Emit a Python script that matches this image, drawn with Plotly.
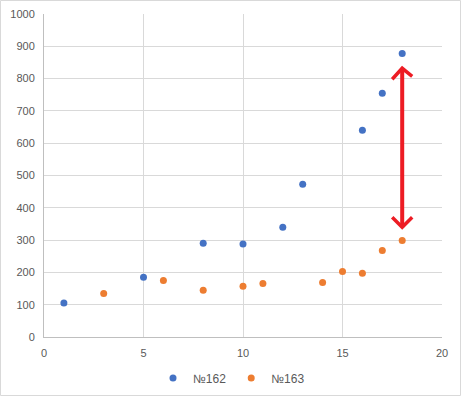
import plotly.graph_objects as go

# Data
x162 = [1, 5, 8, 10, 12, 13, 16, 17, 18]
y162 = [105, 185, 290, 288, 340, 473, 640, 755, 878]
x163 = [3, 6, 8, 10, 11, 14, 15, 16, 17, 18]
y163 = [135, 175, 145, 157, 166, 169, 203, 197, 268, 299]
names = ["№162", "№163"]
colors = ["#4472C4", "#ED7D31"]

# Double arrow (data units)
arrow_x = 18
arrow_y_low = 340
arrow_y_high = 832

W, H = 463, 398
ml, mr, mt, mb = 44, 21, 14, 61
pw, ph = W - ml - mr, H - mt - mb

fig = go.Figure()
for xs, ys, nm, c in [(x162, y162, names[0], colors[0]), (x163, y163, names[1], colors[1])]:
    fig.add_trace(go.Scatter(x=xs, y=ys, mode="markers", name=nm,
                             marker=dict(color=c, size=7, line=dict(width=0))))

dx = 10 * 20 / pw
dy = 10 * 1000 / ph
red = "#ED1C24"
shapes = [
    dict(type="line", x0=arrow_x, x1=arrow_x, y0=arrow_y_low, y1=arrow_y_high,
         line=dict(color=red, width=4)),
    dict(type="path", path=f"M {arrow_x-dx},{arrow_y_high-dy*1.1} L {arrow_x},{arrow_y_high} L {arrow_x+dx},{arrow_y_high-dy*0.8}",
         line=dict(color=red, width=3.5)),
    dict(type="path", path=f"M {arrow_x-dx},{arrow_y_low+dy} L {arrow_x},{arrow_y_low} L {arrow_x+dx},{arrow_y_low+dy}",
         line=dict(color=red, width=3.5)),
    dict(type="rect", xref="paper", yref="paper",
         x0=(-ml + 0.5) / pw, x1=(pw + mr - 2.5) / pw,
         y0=(-mb + 2.5) / ph, y1=(ph + mt - 0.5) / ph,
         line=dict(color="#D9D9D9", width=1), fillcolor="rgba(0,0,0,0)", layer="below"),
]

fig.update_layout(
    width=W, height=H,
    margin=dict(l=ml, r=mr, t=mt, b=mb, autoexpand=False),
    paper_bgcolor="white", plot_bgcolor="white",
    font=dict(family="Liberation Sans, Arial, sans-serif", size=11, color="#595959"),
    showlegend=True,
    legend=dict(orientation="h", x=0.5, xref="container", xanchor="center",
                y=1 - 378 / H, yref="container", yanchor="middle",
                bgcolor="rgba(0,0,0,0)",
                font=dict(size=12, color="#595959"), itemwidth=30, tracegroupgap=0),
    shapes=shapes,
    xaxis=dict(range=[0, 20], dtick=5, showgrid=True, gridcolor="#D9D9D9", gridwidth=1,
               zeroline=False, showline=True, linecolor="#BFBFBF", linewidth=1,
               ticks="", ticklabelstandoff=6, automargin=False,
               tickfont=dict(size=11, color="#595959"), fixedrange=True),
    yaxis=dict(range=[0, 1000], dtick=100, showgrid=True, gridcolor="#D9D9D9", gridwidth=1,
               zeroline=False, showline=True, linecolor="#BFBFBF", linewidth=1,
               ticks="", ticklabelstandoff=6, automargin=False,
               tickfont=dict(size=11, color="#595959"), fixedrange=True),
)

fig.write_html("out.html")
